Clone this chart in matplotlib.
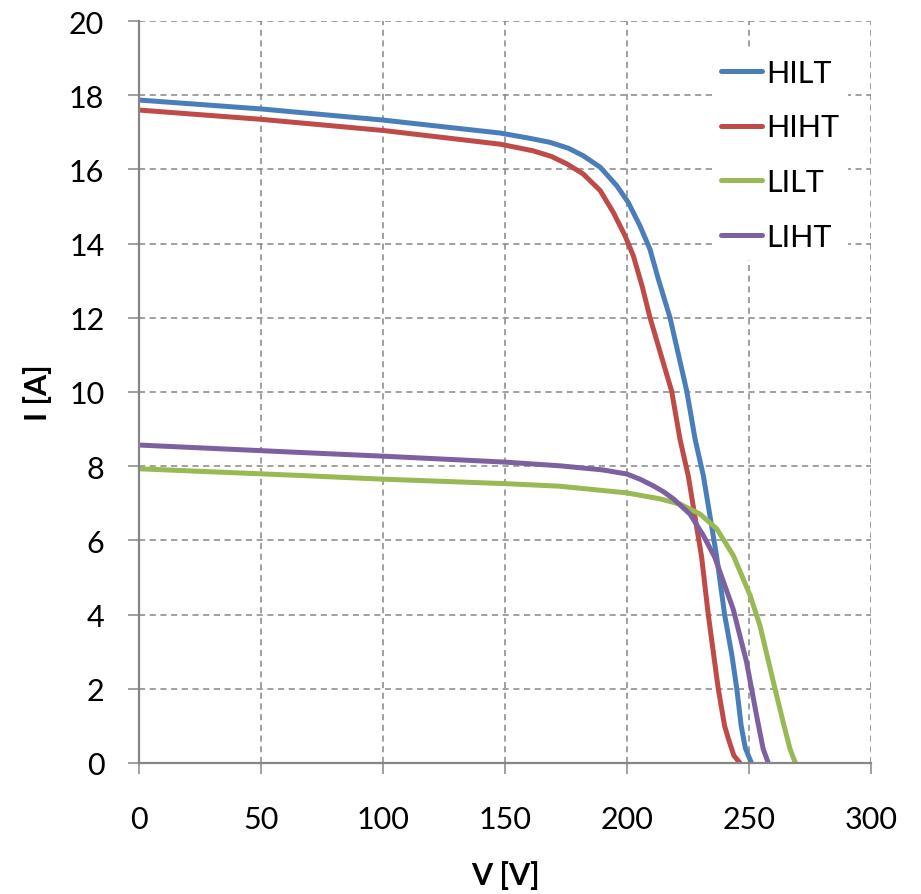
import matplotlib
matplotlib.use("Agg")
import matplotlib.pyplot as plt

# I-V curves for four irradiance / temperature cases
hilt_v = [0, 50, 100, 148, 160, 168.4, 176, 182, 189, 195.8, 200.5, 205.3, 209.4, 212.8, 217.6, 224.5,
          227.9, 231.3, 236.8, 240, 243, 245, 246.8, 248.5, 251]
hilt_i = [17.87, 17.63, 17.33, 16.98, 16.84, 16.73, 16.57, 16.37, 16.06, 15.56, 15.11, 14.48, 13.85, 13.05, 12.01, 10.02,
          8.73, 7.74, 5.54, 4.0, 2.9, 2.0, 1.0, 0.4, 0]

hiht_v = [0, 50, 100, 148, 161.6, 169, 175.3, 182, 189, 194.4, 199.2, 202.6, 206.2, 209.4, 218.3,
          221.7, 225.1, 230.6, 233.3, 237.4, 240, 241.8, 243.8, 246.3]
hiht_i = [17.6, 17.35, 17.05, 16.68, 16.5, 16.35, 16.15, 15.88, 15.43, 14.84, 14.21, 13.67, 12.85, 12.01, 10.02,
          8.73, 7.74, 5.54, 4.0, 2.0, 1.0, 0.6, 0.2, 0]

lilt_v = [0, 66, 100, 150, 172.5, 199.9, 213.5, 221.7, 229.9, 236.8, 243.6, 250.5, 254.5, 260,
          264, 266.8, 269]
lilt_i = [7.93, 7.75, 7.65, 7.53, 7.46, 7.28, 7.12, 6.98, 6.71, 6.31, 5.59, 4.51, 3.7, 2.18,
          1.1, 0.38, 0]

liht_v = [0, 66, 100, 150, 172.5, 190, 199.9, 205.3, 210.8, 215, 219, 225.8, 231.3, 236, 243.5, 249, 253.1,
          255.8, 257.9]
liht_i = [8.57, 8.37, 8.27, 8.11, 8.01, 7.9, 7.79, 7.65, 7.47, 7.31, 7.12, 6.71, 6.13, 5.54, 4.15, 2.72, 1.28,
          0.38, 0]

series = [
    ("HILT", hilt_v, hilt_i, "#4A7EBB"),
    ("HIHT", hiht_v, hiht_i, "#BE4B48"),
    ("LILT", lilt_v, lilt_i, "#98B954"),
    ("LIHT", liht_v, liht_i, "#7D60A0"),
]

plt.rcParams["font.family"] = ["Lato", "DejaVu Sans"]

fig = plt.figure(figsize=(9.21, 8.95), dpi=100)
ax = fig.add_axes([0.151, 0.1464, 0.7947, 0.829])

for name, v, i, c in series:
    ax.plot(v, i, color=c, lw=3.6, label=name, solid_capstyle="round", solid_joinstyle="round")

gray = "#868686"
ax.set_xlim(0, 300)
ax.set_ylim(0, 20)
ax.set_xticks(range(0, 301, 50))
ax.set_yticks(range(0, 21, 2))
ax.grid(True, color=gray, ls=(0, (4, 3)), lw=1.1)
ax.set_axisbelow(True)
for s in ["top", "right"]:
    ax.spines[s].set_visible(False)
for s in ["left", "bottom"]:
    ax.spines[s].set_color(gray)
    ax.spines[s].set_linewidth(1.6)
ax.tick_params(axis="both", colors=gray, length=8, width=1.1, labelcolor="black", labelsize=22)
ax.tick_params(axis="x", pad=22)
ax.tick_params(axis="y", pad=17)

ax.set_xlabel("V [V]", fontsize=22, fontweight="bold", labelpad=20)
ax.set_ylabel("I [A]", fontsize=22, fontweight="bold", labelpad=12)

leg = ax.legend(loc="upper right", bbox_to_anchor=(0.99, 0.982), fontsize=22, frameon=True,
                handlelength=1.35, handletextpad=0.12, labelspacing=0.87, borderpad=0.3)
leg.get_frame().set_edgecolor("none")
leg.get_frame().set_facecolor("white")
leg.get_frame().set_alpha(1)

fig.savefig("out.png", dpi=100)
